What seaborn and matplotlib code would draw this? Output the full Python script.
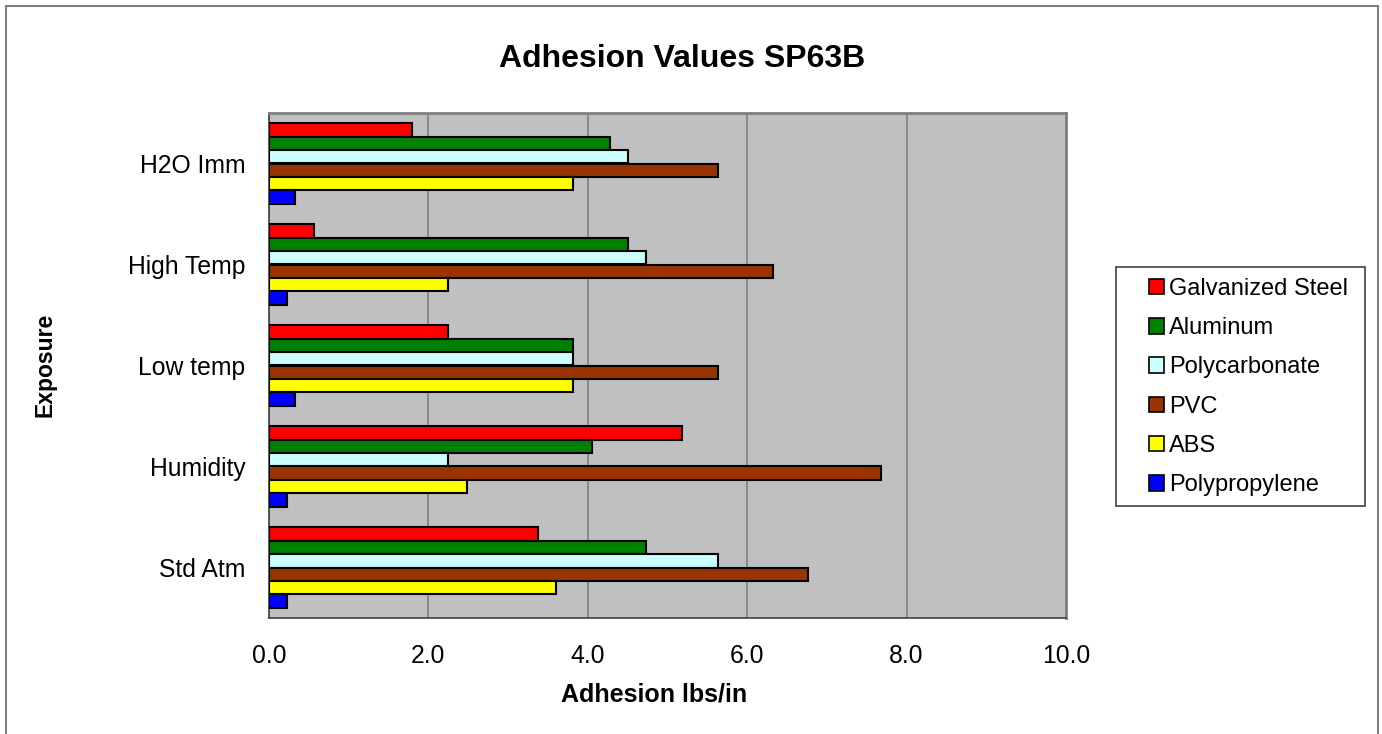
import numpy as np
import pandas as pd
import matplotlib
matplotlib.use("Agg")
import matplotlib.pyplot as plt
import seaborn as sns
from matplotlib.patches import Rectangle

# data (lbs/in)
exposures = ["H2O Imm", "High Temp", "Low temp", "Humidity", "Std Atm"]
materials = ["Galvanized Steel", "Aluminum", "Polycarbonate", "PVC", "ABS", "Polypropylene"]
galvanized = [1.80, 0.56, 2.25, 5.18, 3.38]
aluminum = [4.28, 4.50, 3.82, 4.05, 4.73]
polycarbonate = [4.50, 4.73, 3.82, 2.25, 5.63]
pvc = [5.63, 6.32, 5.63, 7.68, 6.76]
abs_vals = [3.82, 2.25, 3.82, 2.48, 3.60]
polypropylene = [0.33, 0.22, 0.33, 0.22, 0.22]
colors = ["#FF0000", "#008000", "#CCFFFF", "#993300", "#FFFF00", "#0000FF"]

series = [galvanized, aluminum, polycarbonate, pvc, abs_vals, polypropylene]
rows = []
for mat, vals in zip(materials, series):
    for exp, v in zip(exposures, vals):
        rows.append({"Exposure": exp, "Material": mat, "Adhesion": v})
df = pd.DataFrame(rows)

sns.set_style("white")
plt.rcParams["font.family"] = ["Liberation Sans", "DejaVu Sans"]
plt.rcParams["text.color"] = "black"
plt.rcParams["axes.labelcolor"] = "black"
plt.rcParams["xtick.color"] = "black"
plt.rcParams["ytick.color"] = "black"

W, H = 1382, 734
fig = plt.figure(figsize=(13.82, 7.34), dpi=100)
ax_l, ax_r, ax_t, ax_b = 269, 1066, 113, 618
ax = fig.add_axes([ax_l / W, 1 - ax_b / H, (ax_r - ax_l) / W, (ax_b - ax_t) / H])
ax.set_facecolor("#C0C0C0")

sns.barplot(data=df, x="Adhesion", y="Exposure", hue="Material", order=exposures,
            hue_order=materials, palette=colors, orient="h", width=0.8,
            saturation=1, edgecolor="black", linewidth=1.5, ax=ax, zorder=3)

ax.set_xlim(0, 10)
ax.set_ylim(4.5, -0.5)
ax.set_xticks(np.arange(0, 10.1, 2))
ax.set_xticklabels([f"{v:.1f}" for v in np.arange(0, 10.1, 2)])
ax.set_yticks(np.arange(-0.5, 5, 1), minor=True)
ax.grid(axis="x", color="#808080", linewidth=1.2, zorder=0)
ax.set_axisbelow(True)

ax.tick_params(axis="x", which="major", direction="out", length=7, width=1,
               color="#404040", labelsize=17.8, pad=11.5)
ax.tick_params(axis="y", which="major", length=0, labelsize=17.8, pad=17)
ax.tick_params(axis="y", which="minor", direction="out", length=7, width=1, color="#404040")

for s in ["left", "bottom"]:
    ax.spines[s].set_color("#404040")
    ax.spines[s].set_linewidth(1.2)
for s in ["top", "right"]:
    ax.spines[s].set_color("#808080")
    ax.spines[s].set_linewidth(2)

ax.set_xlabel("Adhesion lbs/in", fontsize=18, fontweight="bold", va="center")
ax.set_ylabel("Exposure", fontsize=16.5, fontweight="bold", va="center")
ax.xaxis.set_label_coords((654 - ax_l) / (ax_r - ax_l), -(694 - ax_b) / (ax_b - ax_t))
ax.yaxis.set_label_coords(-(ax_l - 45) / (ax_r - ax_l), (ax_b - 365) / (ax_b - ax_t))

fig.text(682 / W, 1 - 59 / H, "Adhesion Values SP63B", fontsize=23,
         fontweight="bold", ha="center", va="center")

# legend entries without frame; box drawn separately
leg = ax.legend(loc="center left", bbox_to_anchor=(1149 / W, 1 - 387 / H),
                bbox_transform=fig.transFigure, frameon=False,
                fontsize=17, handlelength=0.64, handleheight=0.64, handletextpad=0.2,
                labelspacing=0.73, borderpad=0, borderaxespad=0)
for h in leg.legend_handles:
    h.set_edgecolor("black")
    h.set_linewidth(1.2)
fig.patches.append(Rectangle((1116 / W, 1 - 506 / H), (1365 - 1116) / W, (506 - 267) / H,
                             transform=fig.transFigure, fill=False,
                             edgecolor="#404040", linewidth=1.2))

# outer chart border
fig.patches.append(Rectangle((6 / W, -0.01), (1378 - 6) / W, 1 - 6 / H + 0.01,
                             transform=fig.transFigure, fill=False,
                             edgecolor="#808080", linewidth=1.5))

fig.savefig("out.png", dpi=100)
